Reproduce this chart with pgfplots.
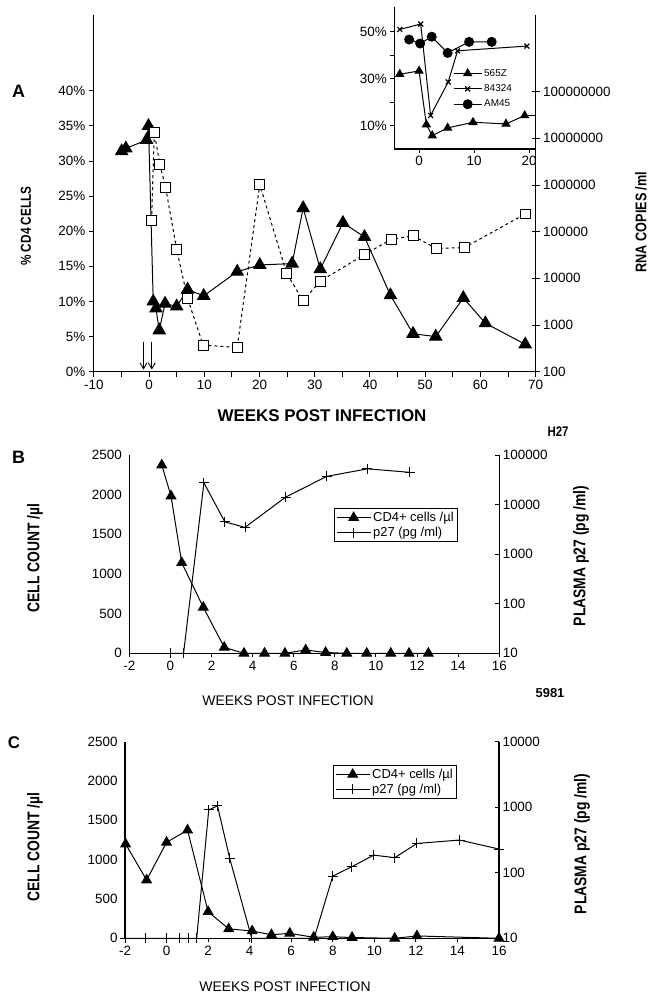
\documentclass[border=0pt]{standalone}
\usepackage{fontspec}
\setmainfont{Liberation Sans}
\newfontfamily\cond[FakeStretch=0.82]{Liberation Sans}
\usepackage{pgfplots}
\pgfplotsset{compat=1.18}
\usetikzlibrary{arrows.meta}

\pgfplotsset{
  panel/.style={
    scale only axis, anchor=south west,
    axis line style={line width=1.3pt},
    tick style={black, line width=1pt},
    major tick length=5pt, minor tick length=5pt,
    /pgf/number format/assume math mode=true,
    /pgf/number format/1000 sep={},
    tick label style={font=\fontsize{13.5}{15}\selectfont},
    every axis plot/.append style={line width=1pt},
  },
  legline/.style={legend image code/.code={
    \draw[mark repeat=2, mark phase=2] plot coordinates {(0bp,0bp) (#1,0bp) (2*#1,0bp)};}},
}

\begin{document}
\begin{tikzpicture}
\path[use as bounding box] (0,0) rectangle (648bp,-994bp);

% ---------------- panel A, % CD4
\begin{axis}[panel, at={(93.8bp,-371.7bp)}, width=441.9bp, height=356.7bp,
  xmin=-10, xmax=70, ymin=0, ymax=50.8,
  axis x line*=bottom, axis y line*=left, tick align=outside,
  xtick={-10,0,...,70}, minor xtick={-5,5,...,65},
  ytick={0,5,...,40},
  yticklabels={0\%,5\%,10\%,15\%,20\%,25\%,30\%,35\%,40\%}]
\addplot[black, mark=triangle*, mark size=7pt] coordinates {
 (-4.96,31.4) (-4.2,31.8) (-0.44,33.0) (-0.1,35.0) (0.76,10.0) (1.25,9.0)
 (1.85,5.9) (2.9,9.7) (5.0,9.3) (6.97,11.7) (9.9,10.8) (15.96,14.25)
 (20.05,15.2) (25.9,15.4) (27.9,23.3) (31.0,14.6) (35.1,21.2) (39.0,19.2)
 (43.7,10.9) (47.8,5.4) (51.9,5.0) (56.9,10.5) (60.9,6.9) (68.1,3.9)};
\draw[-{Straight Barb[length=6pt,width=7pt]}, line width=0.9pt]
  (axis cs:-1,4.3) -- (axis cs:-1,0.3);
\draw[-{Straight Barb[length=6pt,width=7pt]}, line width=0.9pt]
  (axis cs:0.5,4.3) -- (axis cs:0.5,0.3);
\end{axis}

% ---------------- panel A, RNA copies
\begin{axis}[panel, at={(93.8bp,-371.7bp)}, width=441.9bp, height=356.7bp,
  xmin=-10, xmax=70, ymode=log, ymin=100, ymax=4.4e9,
  axis x line=none, axis y line*=right, tick align=center,
  major tick length=8pt, yminorticks=false,
  ytick={1e2,1e3,1e4,1e5,1e6,1e7,1e8},
  yticklabels={100,1000,10000,100000,1000000,10000000,100000000}]
\addplot[black, dash pattern=on 3pt off 3pt, mark=square*, mark size=5pt,
  mark options={solid, fill=white, draw=black, line width=0.9pt}] coordinates {
 (0.46,177800) (0.95,13200000) (1.97,2750000) (3.0,891000) (5.0,41700)
 (6.97,3715) (9.8,372) (15.96,331) (20.05,1020000) (24.9,12900)
 (27.9,3310) (31.0,8710) (39.0,32400) (43.9,69200) (47.8,81300)
 (52.0,43700) (57.1,45700) (68.1,240000)};
\end{axis}

% ---------------- inset
\begin{axis}[panel, at={(394.3bp,-149bp)}, width=141.4bp, height=142.3bp,
  xmin=-4.5, xmax=21.2, ymin=0, ymax=60.7,
  axis x line*=bottom, axis y line*=left, tick align=outside,
  major tick length=4pt,
  xtick={0,10,20}, ytick={10,20,30,40,50}, yticklabels={10\%,,30\%,,50\%},
  legline=14bp,
  legend style={draw=none, fill=none, at={(0.408,0.583)}, anchor=north west,
    font=\fontsize{10}{11}\selectfont, row sep=3pt, inner sep=1pt},
  legend cell align=left]
\addplot[black, mark=triangle*, mark size=4.5pt] coordinates {
 (-3.5,31.9) (0,33.3) (1.33,10.4) (2.4,5.7) (5.2,9.0) (9.8,11.4) (15.8,10.7) (19.2,14.3)};
\addlegendentry{565Z}
\addplot[black, mark=x, mark size=3.5pt, mark options={line width=1.2pt}] coordinates {
 (-3.5,51.0) (0.3,53.3) (2.1,14.3) (5.3,28.6) (7.0,41.9) (19.6,43.9)};
\addlegendentry{84324}
\addplot[black, mark=*, mark size=4.5pt] coordinates {
 (-1.8,46.7) (0.2,45.0) (2.3,47.9) (5.2,41.0) (9.1,45.7) (13.2,45.7)};
\addlegendentry{AM45}
\addplot[black, forget plot] coordinates {(19.2,14.3) (21.2,14.3)};
\end{axis}

% ---------------- panel B, cell count
\begin{axis}[panel, at={(129.3bp,-653.3bp)}, width=370bp, height=198.3bp,
  xmin=-2, xmax=16, ymin=0, ymax=2500,
  axis x line*=bottom, axis y line*=left, tick align=outside,
  major tick length=4pt, ytick style={draw=none},
  xtick={-2,0,...,16}, ytick={0,500,...,2500},
  legline=17bp,
  legend style={at={(0.554,0.731)}, anchor=north west, draw=black,
    line width=0.8pt, fill=white, font=\fontsize{13}{14}\selectfont,
    inner sep=1.5pt, row sep=0pt},
  legend cell align=left]
\addplot[black, mark=triangle*, mark size=5.5pt] coordinates {
 (-0.42,2373) (0.03,1982) (0.55,1142) (1.6,580) (2.62,75) (3.58,0) (4.58,0)
 (5.57,0) (6.58,42) (7.55,10) (8.58,0) (9.55,0) (10.72,0) (11.61,0) (12.55,0)};
\addlegendentry{CD4+ cells /µl}
\addlegendimage{black, line width=1pt, mark=+, mark size=5pt}
\addlegendentry{p27 (pg /ml)}
\end{axis}

% ---------------- panel B, p27
\begin{axis}[panel, at={(129.3bp,-653.3bp)}, width=370bp, height=198.3bp,
  xmin=-2, xmax=16, ymode=log, ymin=10, ymax=1e5,
  axis x line=none, axis y line*=right, tick align=inside,
  major tick length=4pt, yminorticks=false,
  ytick={1e1,1e2,1e3,1e4,1e5}, yticklabels={10,100,1000,10000,100000}]
\addplot[black, mark=+, mark size=5pt] coordinates {
 (0,10) (0.64,10) (1.63,27500) (2.65,4470) (3.63,3470) (5.6,14100)
 (7.6,37000) (9.58,52600) (11.65,44700)};
\end{axis}

% ---------------- panel C, cell count
\begin{axis}[panel, at={(125bp,-938.3bp)}, width=374bp, height=196.6bp,
  xmin=-2, xmax=16, ymin=0, ymax=2500,
  axis x line*=bottom, axis y line*=left, tick align=outside,
  major tick length=4pt, ytick style={draw=none},
  xtick={-2,0,...,16}, ytick={0,500,...,2500},
  legline=17bp,
  legend style={at={(0.557,0.881)}, anchor=north west, draw=black,
    line width=0.8pt, fill=white, font=\fontsize{13}{14}\selectfont,
    inner sep=1.5pt, row sep=0pt},
  legend cell align=left]
\addplot[black, mark=triangle*, mark size=5.5pt] coordinates {
 (-1.97,1198) (-0.96,741) (0,1220) (1.01,1376) (2.0,338) (2.99,120)
 (4.12,93) (5.05,45) (5.93,63) (7.08,13) (8.0,20) (8.93,10) (10.98,0)
 (12.05,30) (16,0)};
\addlegendentry{CD4+ cells /µl}
\addlegendimage{black, line width=1pt, mark=+, mark size=5pt}
\addlegendentry{p27 (pg /ml)}
\end{axis}

% ---------------- panel C, p27
\begin{axis}[panel, at={(125bp,-938.3bp)}, width=374bp, height=196.6bp,
  xmin=-2, xmax=16, ymode=log, ymin=10, ymax=1e4,
  axis x line=none, axis y line*=right, tick align=inside,
  major tick length=4pt, yminorticks=false,
  ytick={1e1,1e2,1e3,1e4}, yticklabels={10,100,1000,10000}]
\addplot[black, mark=+, mark size=5pt] coordinates {
 (-2,10) (-1,10) (0,10) (0.6,10) (1.05,10) (1.45,10) (2.03,912) (2.45,1050)
 (3.04,166) (4.1,10) (7.1,10) (8,89) (8.92,124) (9.97,186) (10.98,170)
 (12.05,280) (14.1,316) (16,230)};
\end{axis}

% ---------------- labels
\node[font=\bfseries\fontsize{18}{20}\selectfont] at (18.5bp,-91bp) {A};
\node[rotate=90, font=\cond\bfseries\fontsize{14.5}{16}\selectfont] at (26bp,-226bp) {\% CD4 CELLS};
\node[rotate=90, font=\cond\bfseries\fontsize{15.5}{17}\selectfont] at (641bp,-222bp) {RNA COPIES /ml};
\node[font=\bfseries\fontsize{17}{19}\selectfont] at (322bp,-416bp) {WEEKS POST INFECTION};
\node[font=\cond\bfseries\fontsize{14}{16}\selectfont] at (558bp,-432bp) {H27};

\node[font=\bfseries\fontsize{18}{20}\selectfont] at (18.6bp,-457bp) {B};
\node[rotate=90, font=\cond\bfseries\fontsize{17}{19}\selectfont] at (35bp,-558bp) {CELL COUNT /µl};
\node[rotate=90, font=\cond\bfseries\fontsize{17}{19}\selectfont] at (581bp,-556bp) {PLASMA p27 (pg /ml)};
\node[font=\fontsize{14}{16}\selectfont] at (288bp,-701bp) {WEEKS POST INFECTION};
\node[font=\bfseries\fontsize{13}{15}\selectfont] at (550bp,-693bp) {5981};

\node[font=\bfseries\fontsize{17}{19}\selectfont] at (14bp,-743bp) {C};
\node[rotate=90, font=\cond\bfseries\fontsize{17}{19}\selectfont] at (35bp,-847bp) {CELL COUNT /µl};
\node[rotate=90, font=\cond\bfseries\fontsize{17}{19}\selectfont] at (582bp,-844bp) {PLASMA p27 (pg /ml)};
\node[font=\fontsize{14}{16}\selectfont] at (285bp,-987bp) {WEEKS POST INFECTION};
\end{tikzpicture}
\end{document}
